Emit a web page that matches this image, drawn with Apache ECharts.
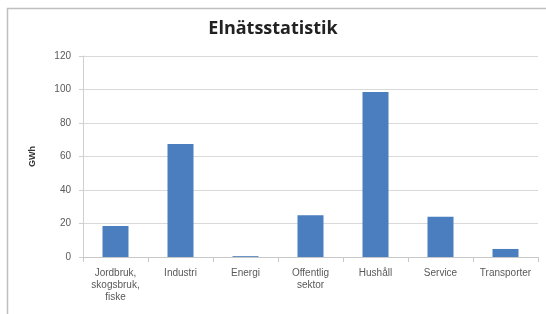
<!DOCTYPE html>
<html>
<head>
<meta charset="utf-8">
<script src="https://cdn.jsdelivr.net/npm/echarts@6/dist/echarts.min.js"></script>
<style>
  html, body { margin: 0; padding: 0; background: #fff; }
  #chart { width: 546px; height: 314px; }
</style>
</head>
<body>
<div id="chart"></div>
<script>
  var categories = ['Jordbruk,\nskogsbruk,\nfiske', 'Industri', 'Energi', 'Offentlig\nsektor', 'Hushåll', 'Service', 'Transporter'];
  var values = [18.5, 67.5, 0.5, 25, 98.5, 24, 4.8];
  var yTicks = [0, 20, 40, 60, 80, 100, 120];

  var labelStyle = { color: '#595959', fontSize: 10, fontFamily: 'Liberation Sans' };

  var myChart = echarts.init(document.getElementById('chart'));
  myChart.setOption({
    animation: false,
    title: {
      text: 'Elnätsstatistik',
      left: 'center',
      top: 15,
      textStyle: { fontSize: 18, fontWeight: 'bold', color: '#222', fontFamily: 'Open Sans' }
    },
    graphic: [{
      type: 'rect',
      shape: { x: 7.5, y: 8.5, width: 545, height: 320 },
      style: { fill: 'none', stroke: '#bfbfbf', lineWidth: 1.5 }
    }],
    grid: { left: 83, right: 8, top: 56, bottom: 57 },
    xAxis: {
      type: 'category',
      data: categories,
      axisLine: { lineStyle: { color: '#c8c8c8' } },
      axisTick: { show: true, alignWithLabel: false, lineStyle: { color: '#c8c8c8' } },
      axisLabel: Object.assign({ interval: 0, lineHeight: 12, margin: 10 }, labelStyle)
    },
    yAxis: {
      type: 'value',
      min: yTicks[0],
      max: yTicks[yTicks.length - 1],
      interval: 20,
      name: 'GWh',
      nameLocation: 'middle',
      nameGap: 46,
      nameRotate: 90,
      nameTextStyle: { fontSize: 9, fontWeight: 'bold', color: '#333', fontFamily: 'Liberation Sans' },
      axisLine: { show: true, lineStyle: { color: '#d0d0d0' } },
      axisTick: { show: true, length: 4, lineStyle: { color: '#d0d0d0' } },
      axisLabel: Object.assign({ margin: 12 }, labelStyle),
      splitLine: { lineStyle: { color: '#d9d9d9' } }
    },
    series: [{
      type: 'bar',
      data: values,
      barWidth: '40%',
      itemStyle: { color: '#4a7ebf' }
    }]
  });
</script>
</body>
</html>
